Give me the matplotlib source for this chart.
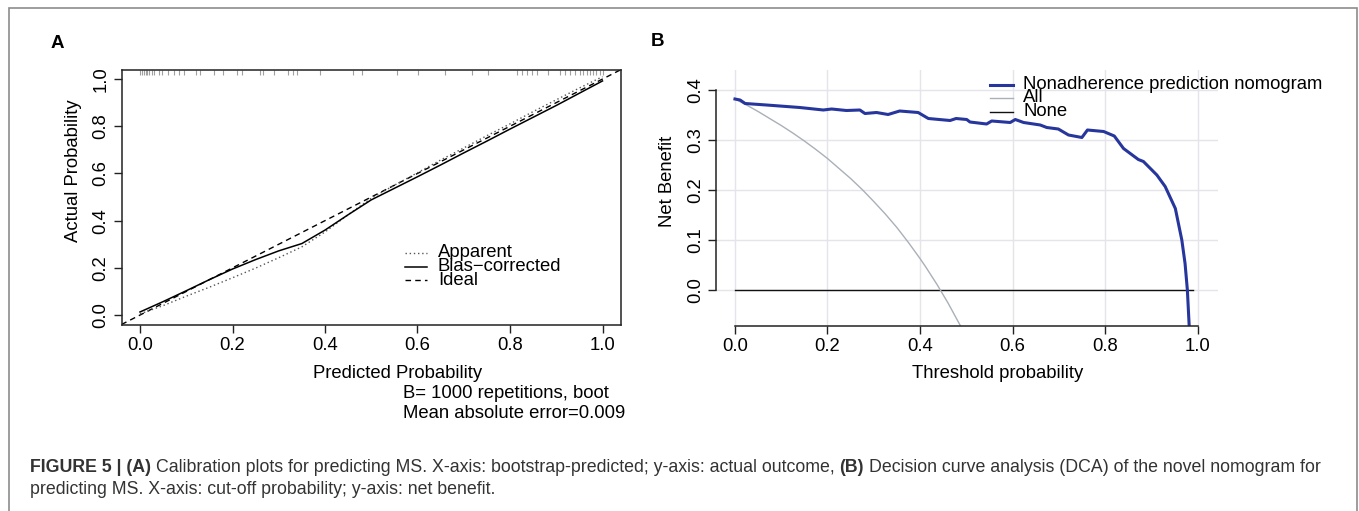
import numpy as np
import matplotlib
matplotlib.use("Agg")
import matplotlib.pyplot as plt
from matplotlib.patches import Rectangle

plt.rcParams['font.family'] = ['Liberation Sans', 'DejaVu Sans']

W, H = 1359, 511

# Panel A - calibration curve
pred_prob = [0.0, 0.05, 0.1, 0.15, 0.2, 0.25, 0.3, 0.35, 0.4, 0.45, 0.5,
             0.55, 0.6, 0.65, 0.7, 0.75, 0.8, 0.85, 0.9, 0.95, 1.0]
apparent = [0.005, 0.04, 0.08, 0.118, 0.158, 0.199, 0.243, 0.289, 0.352, 0.425, 0.495,
            0.55, 0.603, 0.657, 0.708, 0.76, 0.81, 0.862, 0.912, 0.962, 1.01]
bias_corrected = [0.013, 0.057, 0.103, 0.15, 0.195, 0.235, 0.272, 0.303, 0.36, 0.425, 0.488,
                  0.537, 0.586, 0.636, 0.687, 0.737, 0.788, 0.838, 0.888, 0.94, 0.992]
# rug of predicted probabilities along the top
rug_pred = [0.0, 0.004, 0.008, 0.012, 0.016, 0.02, 0.025, 0.03, 0.04, 0.048, 0.06,
            0.074, 0.085, 0.095, 0.12, 0.13, 0.16, 0.18, 0.21, 0.22, 0.26, 0.265,
            0.29, 0.32, 0.33, 0.34, 0.39, 0.46, 0.48, 0.555, 0.602, 0.66, 0.717,
            0.753, 0.815, 0.826, 0.836, 0.847, 0.858, 0.883, 0.909, 0.919, 0.93,
            0.94, 0.951, 0.958, 0.966, 0.973, 0.98, 0.987, 0.995, 1.0]

# Panel B - decision curve analysis
thresh_model = [0.0, 0.011, 0.022, 0.068, 0.14, 0.191, 0.209, 0.241, 0.27, 0.281, 0.306,
                0.331, 0.356, 0.396, 0.418, 0.465, 0.478, 0.501, 0.508, 0.544, 0.555,
                0.595, 0.606, 0.624, 0.66, 0.674, 0.699, 0.721, 0.75, 0.762, 0.797,
                0.82, 0.84, 0.872, 0.883, 0.912, 0.93, 0.952, 0.966, 0.973, 0.978, 0.982]
nb_model = [0.382, 0.38, 0.373, 0.37, 0.365, 0.36, 0.362, 0.359, 0.36, 0.353, 0.355,
            0.351, 0.358, 0.355, 0.343, 0.339, 0.343, 0.341, 0.336, 0.332, 0.338,
            0.335, 0.341, 0.335, 0.33, 0.325, 0.322, 0.31, 0.305, 0.32, 0.317,
            0.308, 0.283, 0.261, 0.257, 0.23, 0.207, 0.163, 0.1, 0.053, 0.0, -0.073]
thresh_all = [0.0, 0.025, 0.05, 0.075, 0.1, 0.125, 0.15, 0.175, 0.2, 0.225, 0.25, 0.275,
              0.3, 0.325, 0.35, 0.375, 0.4, 0.4125, 0.425, 0.4375, 0.449, 0.46, 0.47, 0.48, 0.49]
nb_all = [0.382, 0.37, 0.357, 0.343, 0.329, 0.314, 0.298, 0.281, 0.263, 0.243, 0.223, 0.201,
          0.177, 0.152, 0.125, 0.095, 0.063, 0.046, 0.028, 0.01, -0.008, -0.025, -0.042,
          -0.059, -0.076]
thresh_none = [0.0, 0.99]
nb_none = [0.0, 0.0]

ticks_a = [0.0, 0.2, 0.4, 0.6, 0.8, 1.0]
ticks_b_x = [0.0, 0.2, 0.4, 0.6, 0.8, 1.0]
ticks_b_y = [0.0, 0.1, 0.2, 0.3, 0.4]

FS = 13.3
fig = plt.figure(figsize=(W / 100, H / 100), dpi=100)


def fx(px):
    return px / W


def fy(py):
    return 1 - py / H


# ---------------- Panel A ----------------
axA = fig.add_axes([fx(121.5), fy(324.5), 499.5 / W, 254.9 / H])
axA.set_xlim(-0.04, 1.04)
axA.set_ylim(-0.04, 1.04)
axA.vlines(rug_pred, 1.019, 1.04, color='#a0a0a0', lw=0.8)
axA.plot([-0.04, 1.04], [-0.04, 1.04], color='black', lw=1.0, ls=(0, (4, 3)))
axA.plot(pred_prob, apparent, color='#555555', lw=1.0, ls=(0, (1, 2)))
axA.plot(pred_prob, bias_corrected, color='black', lw=1.1)
axA.set_xticks(ticks_a)
axA.set_xticklabels([f"{v:.1f}" for v in ticks_a])
axA.set_yticks(ticks_a)
axA.set_yticklabels([f"{v:.1f}" for v in ticks_a])
for s in axA.spines.values():
    s.set_linewidth(1.1)
    s.set_color('#222222')
axA.tick_params(direction='out', length=5.8, width=1.0, labelsize=FS, pad=3, color='#222222')
for lbl in axA.get_yticklabels():
    lbl.set_rotation(90)
    lbl.set_va('center')

# legend of panel A, drawn by hand to get R's tight spacing
leg_a = [("Apparent", dict(color='#555555', lw=1.0, ls=(0, (1, 2)))),
         ("Bias\u2212corrected", dict(color='black', lw=1.1)),
         ("Ideal", dict(color='black', lw=1.0, ls=(0, (4, 3))))]
for (lab, sty), yy in zip(leg_a, [0.264, 0.205, 0.148]):
    axA.plot([0.573, 0.621], [yy, yy], **sty)
    axA.text(0.644, yy, lab, fontsize=FS, va='center', ha='left')

fig.text(fx(73), fy(171), "Actual Probability", rotation=90, fontsize=FS, ha='center', va='center')
fig.text(fx(397.5), fy(373), "Predicted Probability", fontsize=FS, ha='center', va='center')
fig.text(fx(402.7), fy(393), "B= 1000 repetitions, boot", fontsize=FS, ha='left', va='center')
fig.text(fx(402.7), fy(413), "Mean absolute error=0.009", fontsize=FS, ha='left', va='center')

# ---------------- Panel B ----------------
axB = fig.add_axes([fx(716), fy(325.5), 501.9 / W, 255.5 / H])
axB.set_xlim(-0.041, 1.044)
axB.set_ylim(-0.071, 0.44)
axB.set_xticks(ticks_b_x)
axB.set_xticklabels([f"{v:.1f}" for v in ticks_b_x])
axB.set_yticks(ticks_b_y)
axB.set_yticklabels([f"{v:.1f}" for v in ticks_b_y])
axB.grid(True, color='#E4E4EA', lw=1.0)
axB.set_axisbelow(True)
axB.spines['top'].set_visible(False)
axB.spines['right'].set_visible(False)
axB.spines['left'].set_bounds(0, 0.4)
axB.spines['bottom'].set_bounds(0, 1.0)
for side in ['left', 'bottom']:
    axB.spines[side].set_linewidth(1.1)
    axB.spines[side].set_color('#222222')
axB.tick_params(direction='out', length=5.8, width=1.0, labelsize=FS, pad=3, color='#222222')
for lbl in axB.get_yticklabels():
    lbl.set_rotation(90)
    lbl.set_va('center')

blue = '#26369C'
gray_all = '#A9B0B8'
axB.plot(thresh_none, nb_none, color='#111111', lw=1.0)
axB.plot(thresh_all, nb_all, color=gray_all, lw=1.0)
axB.plot(thresh_model, nb_model, color=blue, lw=2.2)

leg_b = [("Nonadherence prediction nomogram", dict(color=blue, lw=2.2)),
         ("All", dict(color=gray_all, lw=1.0)),
         ("None", dict(color='#111111', lw=1.0))]
for (lab, sty), yy in zip(leg_b, [0.411, 0.385, 0.357]):
    axB.plot([0.551, 0.601], [yy, yy], clip_on=False, **sty)
    axB.text(0.623, yy, lab, fontsize=FS, va='center', ha='left', clip_on=False)

fig.text(fx(667), fy(181), "Net Benefit", rotation=90, fontsize=FS, ha='center', va='center')
fig.text(fx(998), fy(373), "Threshold probability", fontsize=FS, ha='center', va='center')

# panel letters
fig.text(fx(57), fy(43), "A", fontsize=13.5, fontweight='bold', ha='center', va='center')
fig.text(fx(657), fy(42), "B", fontsize=13.5, fontweight='bold', ha='center', va='center')

# frame around the figure
fig.add_artist(Rectangle((fx(9), -0.05), (1357 - 9) / W, fy(8) + 0.05,
                         transform=fig.transFigure, fill=False, ec='#8c8c8c', lw=1.2))

# ---------------- caption ----------------
cap1 = [("FIGURE 5 | (A)", 'bold'),
        ("Calibration plots for predicting MS. X-axis: bootstrap-predicted; y-axis: actual outcome,", 'normal'),
        ("(B)", 'bold'),
        ("Decision curve analysis (DCA) of the novel nomogram for", 'normal')]
cap2 = [("predicting MS. X-axis: cut-off probability; y-axis: net benefit.", 'normal')]
cap_color = '#333333'
renderer = fig.canvas.get_renderer()


def run_width(runs, size):
    total = 0
    for txt, wt in runs:
        t = fig.text(0, 0, txt, fontsize=size, fontweight=wt)
        total += t.get_window_extent(renderer=renderer).width
        t.remove()
    return total + (len(runs) - 1) * 0.278 * size * 100 / 72


base = 10
cap_size = base * (1323 - 30) / run_width(cap1, base)


def draw_runs(x0, y0, runs, size):
    x = x0
    for txt, wt in runs:
        t = fig.text(fx(x), fy(y0), txt, fontsize=size, fontweight=wt, color=cap_color,
                     ha='left', va='center')
        x += t.get_window_extent(renderer=renderer).width + 0.278 * size * 100 / 72


draw_runs(30, 467, cap1, cap_size)
draw_runs(30, 489, cap2, cap_size)

fig.savefig("out.png", dpi=100)
